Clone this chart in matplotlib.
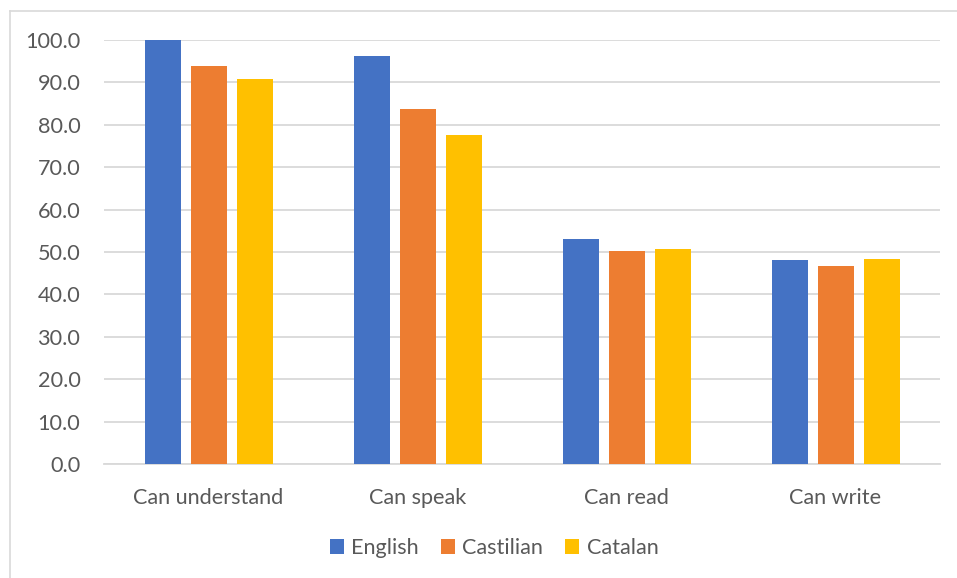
import matplotlib
matplotlib.use("Agg")
import matplotlib.pyplot as plt
from matplotlib.lines import Line2D
import numpy as np

categories = ["Can understand", "Can speak", "Can read", "Can write"]
english = [100.0, 96.2, 53.0, 48.1]
castilian = [93.8, 83.7, 50.2, 46.6]
catalan = [90.7, 77.7, 50.8, 48.3]
series_names = ["English", "Castilian", "Catalan"]
colors = ["#4472C4", "#ED7D31", "#FFC000"]
yticks = np.arange(0, 101, 10)

plt.rcParams["font.family"] = ["Lato", "DejaVu Sans"]
text_color = "#595959"
grid_color = "#D9D9D9"
fs = 15.6

W, H = 957, 578
fig = plt.figure(figsize=(W / 100, H / 100), dpi=100)

left, right, top, bottom = 104, 940, 40, 464
ax = fig.add_axes([left / W, 1 - bottom / H, (right - left) / W, (bottom - top) / H])

x = np.arange(len(categories))
bw = 36 / 209
step = 46 / 209
for i, (vals, name, c) in enumerate(zip([english, castilian, catalan], series_names, colors)):
    ax.bar(x + (i - 1) * step, vals, width=bw, color=c, label=name, zorder=3)

ax.set_xlim(-0.5, len(categories) - 0.5)
ax.set_ylim(0, 100)
ax.set_yticks(yticks)
ax.set_yticklabels([f"{v:.1f}" for v in yticks])
ax.set_xticks(x)
ax.set_xticklabels(categories)
ax.yaxis.grid(True, color=grid_color, linewidth=1.3, zorder=0)
ax.tick_params(axis="both", length=0, labelsize=fs, colors=text_color)
ax.tick_params(axis="y", pad=17)
ax.tick_params(axis="x", pad=17)
for s in ["top", "right", "left"]:
    ax.spines[s].set_visible(False)
ax.spines["bottom"].set_color(grid_color)
ax.spines["bottom"].set_linewidth(1.3)

leg = fig.legend(loc="center", bbox_to_anchor=(494 / W, 1 - 548 / H), ncol=3, frameon=False,
                 fontsize=fs, handlelength=0.65, handleheight=0.65, handletextpad=0.35,
                 columnspacing=1.0)
for t in leg.get_texts():
    t.set_color(text_color)

# chart frame edges
fig.add_artist(Line2D([10 / W, 10 / W], [0, 1 - 11 / H], color=grid_color, linewidth=1.2))
fig.add_artist(Line2D([10 / W, 1], [1 - 11 / H, 1 - 11 / H], color=grid_color, linewidth=1.2))

fig.savefig("out.png", dpi=100, facecolor="white")
